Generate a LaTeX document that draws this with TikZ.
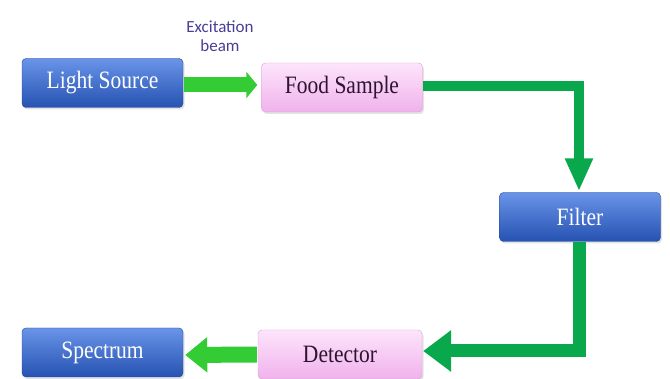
\documentclass[tikz,border=0pt]{standalone}
\usepackage{fontspec}
\setmainfont{Liberation Serif}
\newfontfamily\labfont{Carlito}
\usetikzlibrary{arrows.meta,shadows}
\definecolor{dkgreen}{RGB}{10,168,76}
\definecolor{ltgreen}{RGB}{52,204,52}
\definecolor{bluetop}{RGB}{105,148,232}
\definecolor{bluebot}{RGB}{38,82,178}
\definecolor{pinktop}{RGB}{253,228,251}
\definecolor{pinkbot}{RGB}{240,178,236}
\definecolor{labcol}{RGB}{72,62,150}
\definecolor{darktext}{RGB}{45,20,50}
\newcommand{\boxtext}[1]{\scalebox{0.86}[1]{#1}}
\begin{document}
\begin{tikzpicture}[x=1pt,y=1pt,
  basebox/.style={rectangle, rounded corners=4pt, minimum width=161pt, minimum height=49pt,
    inner sep=0pt, line width=0.4pt, font=\fontsize{25}{28}\selectfont,
    drop shadow={opacity=0.22, shadow xshift=1.5pt, shadow yshift=-2pt}},
  bluebox/.style={basebox, top color=bluetop, bottom color=bluebot, draw=bluebot!85!black, text=white},
  pinkbox/.style={basebox, top color=pinktop, bottom color=pinkbot, draw=pinkbot!90!black, text=darktext},
  lightarrow/.style={ltgreen, line width=15pt},
  darkarrow/.style={dkgreen, line join=miter}
]
\useasboundingbox (0,0) rectangle (670,-379);
\node[bluebox] (ls) at (102.5,-83) {\boxtext{Light Source}};
\node[pinkbox] (fs) at (342,-87.5) {\boxtext{Food Sample}};
\node[bluebox] (fl) at (580,-217) {\boxtext{Filter}};
\node[bluebox] (sp) at (102.5,-352.5) {\boxtext{Spectrum}};
\node[pinkbox, minimum width=164pt] (dt) at (340,-354.5) {\boxtext{Detector}};
\node[font=\labfont\fontsize{17}{19}\selectfont, text=labcol, align=center] (lbl) at (220,-36) {Excitation\\beam};
% arrows
\draw[lightarrow, -{Triangle[width=26pt,length=11pt]}] ([xshift=1pt,yshift=-2pt]ls.east) -- ([xshift=-4pt,yshift=2.5pt]fs.west);
\draw[darkarrow, line width=10pt, -{Triangle[width=26pt,length=33pt]}] ([yshift=1.5pt]fs.east) -| ([xshift=-1pt,yshift=1pt]fl.north);
\draw[darkarrow, line width=13pt, -{Triangle[width=40pt,length=28pt]}] ([xshift=-1pt]fl.south) |- ([xshift=1pt,yshift=3.5pt]dt.east);
\draw[lightarrow, line width=16pt, -{Triangle[width=34pt,length=22pt]}] ([xshift=-1pt]dt.west) -- ([xshift=2pt,yshift=-2.5pt]sp.east);
\end{tikzpicture}
\end{document}
